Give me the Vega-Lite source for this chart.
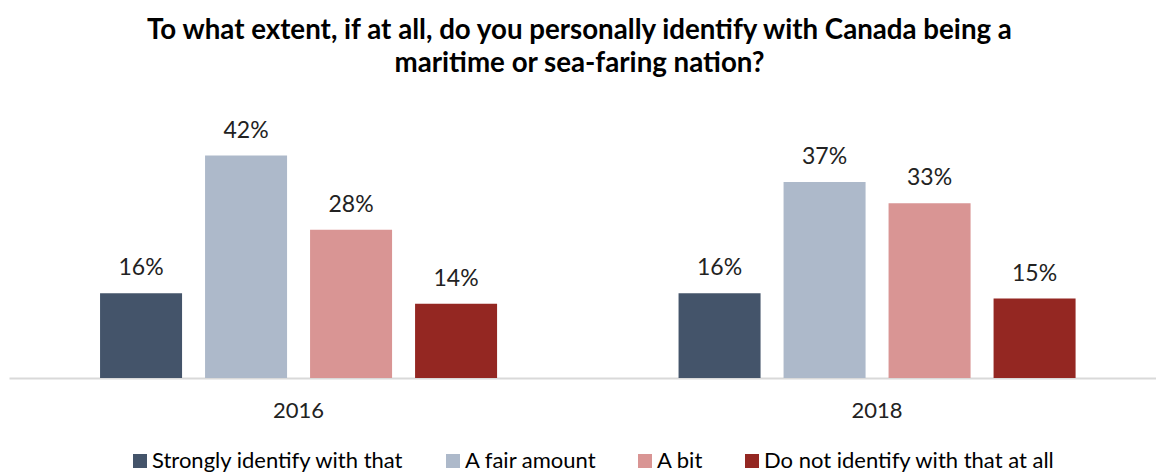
{
  "$schema": "https://vega.github.io/schema/vega-lite/v6.json",
  "autosize": "none",
  "width": 1147,
  "height": 278,
  "padding": {"left": 9, "top": 100, "right": 0, "bottom": 95},
  "background": "white",
  "config": {
    "view": {"stroke": null},
    "font": "Lato"
  },
  "title": {
    "text": ["To what extent, if at all, do you personally identify with Canada being a", "maritime or sea-faring nation?"],
    "font": "Lato",
    "fontSize": 27.7,
    "fontWeight": "bold",
    "color": "#000000",
    "anchor": "middle",
    "dx": -3,
    "offset": 22,
    "lineHeight": 33
  },
  "data": {
    "values": [
      {"year": "2016", "response": "Strongly identify with that", "pct": 0.16},
      {"year": "2016", "response": "A fair amount", "pct": 0.42},
      {"year": "2016", "response": "A bit", "pct": 0.28},
      {"year": "2016", "response": "Do not identify with that at all", "pct": 0.14},
      {"year": "2018", "response": "Strongly identify with that", "pct": 0.16},
      {"year": "2018", "response": "A fair amount", "pct": 0.37},
      {"year": "2018", "response": "A bit", "pct": 0.33},
      {"year": "2018", "response": "Do not identify with that at all", "pct": 0.15}
    ]
  },
  "encoding": {
    "x": {
      "field": "year",
      "type": "nominal",
      "scale": {"paddingInner": 0.3137, "paddingOuter": 0.1482, "align": 0.531},
      "axis": {
        "title": null,
        "labelAngle": 0,
        "ticks": false,
        "domainColor": "#d9d9d9",
        "domainWidth": 2,
        "labelFont": "Lato",
        "labelFontSize": 22,
        "labelColor": "#222222",
        "labelBaseline": "alphabetic",
        "labelPadding": 39
      }
    },
    "xOffset": {
      "field": "response",
      "type": "nominal",
      "sort": ["Strongly identify with that", "A fair amount", "A bit", "Do not identify with that at all"],
      "scale": {"paddingInner": 0.219, "paddingOuter": 0}
    },
    "y": {
      "field": "pct",
      "type": "quantitative",
      "scale": {"domain": [0, 0.525], "nice": false},
      "axis": null
    }
  },
  "layer": [
    {
      "mark": {"type": "bar"},
      "encoding": {
        "color": {
          "field": "response",
          "type": "nominal",
          "sort": ["Strongly identify with that", "A fair amount", "A bit", "Do not identify with that at all"],
          "scale": {
            "domain": ["Strongly identify with that", "A fair amount", "A bit", "Do not identify with that at all"],
            "range": ["#44546A", "#ADB9CA", "#D99594", "#942722"]
          },
          "legend": {
            "title": null,
            "orient": "none",
            "legendX": 120,
            "legendY": 350,
            "direction": "horizontal",
            "symbolType": "square",
            "symbolSize": 196,
            "symbolStrokeWidth": 0,
            "labelFont": "Lato",
            "labelFontSize": 22,
            "labelColor": "#000000",
            "labelOffset": 1,
            "columnPadding": 37,
            "labelLimit": 500
          }
        }
      }
    },
    {
      "mark": {"type": "text", "baseline": "alphabetic", "dy": -18, "font": "Lato", "fontSize": 23, "color": "#222222"},
      "encoding": {
        "text": {"field": "pct", "type": "quantitative", "format": ".0%"},
        "detail": {"field": "response"}
      }
    }
  ]
}
